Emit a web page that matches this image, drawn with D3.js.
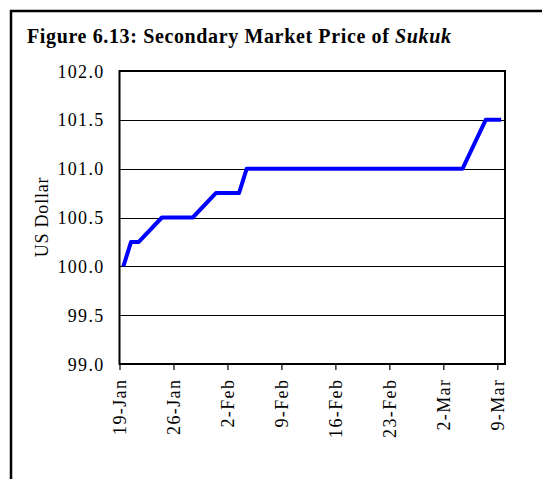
<!DOCTYPE html>
<html><head><meta charset="utf-8">
<script src="https://cdn.jsdelivr.net/npm/d3@7"></script>
<style>
html,body{margin:0;padding:0;background:#fff;}
svg{display:block;}
</style></head>
<body>
<script>
// ---- data (trading days, price in US$) ----
const dates = [
  "2005-01-19","2005-01-20","2005-01-21","2005-01-24","2005-01-25","2005-01-26","2005-01-27","2005-01-28","2005-01-31",
  "2005-02-01","2005-02-02","2005-02-03","2005-02-04","2005-02-07","2005-02-08","2005-02-09","2005-02-10","2005-02-11",
  "2005-02-14","2005-02-15","2005-02-16","2005-02-17","2005-02-18","2005-02-21","2005-02-22","2005-02-23","2005-02-24",
  "2005-02-25","2005-02-28","2005-03-01","2005-03-02","2005-03-03","2005-03-04","2005-03-07","2005-03-08","2005-03-09"
];
const prices = [
  100.00,100.25,100.25,100.50,100.50,100.50,100.50,100.50,100.75,
  100.75,100.75,100.75,101.00,101.00,101.00,101.00,101.00,101.00,
  101.00,101.00,101.00,101.00,101.00,101.00,101.00,101.00,101.00,
  101.00,101.00,101.00,101.00,101.00,101.00,101.50,101.50,101.50
];
const xTickDates = ["2005-01-19","2005-01-26","2005-02-02","2005-02-09","2005-02-16","2005-02-23","2005-03-02","2005-03-09"];
const yTicks = [99.0, 99.5, 100.0, 100.5, 101.0, 101.5, 102.0];
const titleText = "Figure 6.13: Secondary Market Price of ";
const titleItalic = "Sukuk";
const yAxisTitle = "US Dollar";

// ---- layout ----
const W = 542, H = 479;
const FONT = "'Liberation Serif', 'Times New Roman', serif";
const plot = {left: 119.5, right: 505, top: 71, bottom: 364};
const parse = d3.timeParse("%Y-%m-%d");
const data = dates.map((d, i) => ({date: parse(d), value: prices[i]}));

const svg = d3.select("body").append("svg").attr("width", W).attr("height", H);

// outer frame
svg.append("rect").attr("x", 11).attr("y", 11).attr("width", 700).attr("height", 700)
  .attr("fill", "none").attr("stroke", "#000").attr("stroke-width", 2.5);

// title
const title = svg.append("text").attr("x", 27).attr("y", 43)
  .style("font-family", FONT).style("font-size", "20px").style("font-weight", "bold")
  .attr("textLength", 424).attr("lengthAdjust", "spacing");
title.append("tspan").text(titleText);
title.append("tspan").style("font-style", "italic").text(titleItalic);

const x = d3.scaleTime()
  .domain([parse("2005-01-19"), parse("2005-03-10")])
  .range([plot.left, plot.right]);
const y = d3.scaleLinear().domain([99, 102]).range([plot.bottom, plot.top]);

// gridlines
svg.append("g").selectAll("line").data(yTicks.filter(v => v > 99 && v < 102)).join("line")
  .attr("x1", plot.left).attr("x2", plot.right)
  .attr("y1", d => Math.round(y(d)) + 0.5).attr("y2", d => Math.round(y(d)) + 0.5)
  .attr("stroke", "#000").attr("stroke-width", 1);

// plot border
svg.append("rect").attr("x", plot.left).attr("y", plot.top)
  .attr("width", plot.right - plot.left).attr("height", plot.bottom - plot.top)
  .attr("fill", "none").attr("stroke", "#000").attr("stroke-width", 2);

// y axis labels
const yAxis = d3.axisLeft(y).tickValues(yTicks).tickFormat(d3.format(".1f")).tickSize(0).tickPadding(15);
const gy = svg.append("g").attr("transform", `translate(${plot.left},0)`).call(yAxis);
gy.select(".domain").remove();
gy.selectAll("text").style("font-family", FONT).style("font-size", "18px")
  .style("letter-spacing", "1.3px").attr("fill", "#000").attr("dy", "0.34em");

// x axis
const xAxis = d3.axisBottom(x).tickValues(xTickDates.map(parse))
  .tickFormat(d3.timeFormat("%-d-%b")).tickSize(6).tickSizeOuter(0).tickPadding(0);
const gx = svg.append("g").attr("transform", `translate(0,${plot.bottom})`).call(xAxis);
gx.select(".domain").remove();
gx.selectAll(".tick line").attr("stroke", "#000").attr("stroke-width", 1.2);
gx.selectAll("text").style("font-family", FONT).style("font-size", "18px")
  .style("letter-spacing", "1.4px").attr("fill", "#000")
  .attr("text-anchor", "end").attr("transform", "rotate(-90)")
  .attr("x", -14.6).attr("y", 0).attr("dy", "0.34em");

// y axis title
svg.append("text").attr("transform", `translate(48,217) rotate(-90)`)
  .attr("text-anchor", "middle")
  .style("font-family", FONT).style("font-size", "18px").style("letter-spacing", "0.8px")
  .text(yAxisTitle);

// line (points sit mid-day)
const line = d3.line()
  .x(d => x(d3.timeHour.offset(d.date, 12)))
  .y(d => y(d.value));
svg.append("path").datum(data).attr("d", line)
  .attr("fill", "none").attr("stroke", "#0000FF").attr("stroke-width", 4)
  .attr("stroke-linejoin", "round");
</script>
</body></html>
